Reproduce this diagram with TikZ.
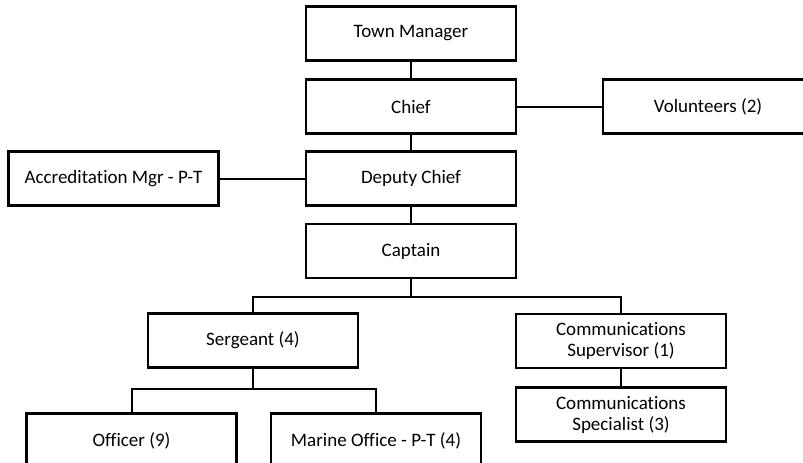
\documentclass[tikz,border=0pt]{standalone}
\usepackage{fontspec}
\setmainfont{Carlito}[Ligatures=NoCommon]
\usetikzlibrary{positioning}
\tikzstyle{post} = [draw, fill=white, line width=2.2pt, minimum width=210pt,
  minimum height=54pt, inner sep=0pt, align=center,
  font=\fontsize{19}{21}\selectfont]
\tikzstyle{line} = [draw, line width=2pt]
\tikzstyle{thinline} = [draw, line width=1.3pt]
\newcommand{\post}[2]{node (#1) [post] {#2}}

\begin{document}
\begin{tikzpicture}[x=1pt, y=-1pt]
\useasboundingbox (0,0) rectangle (803,463);
\clip (0,0) rectangle (803,463);
% Boxes of the chart
\path (411,33.5)                  \post{tm}{Town Manager};
\path (tm.center)+(0,73)          \post{chief}{Chief};
\path (chief.center)+(297,0)      \post{vol}{Volunteers (2)};
\path (chief.center)+(0,72)       \post{deputy}{Deputy Chief};
\path (deputy.center)+(-297.5,0)  \post{accr}{Accreditation Mgr - P-T};
\path (deputy.center)+(0,72.5)    \post{captain}{Captain};

\path (captain.center)+(-158,89.5) \post{sgt}{Sergeant (4)};
\path (captain.center)+(210,90)    \post{comsup}{Communications\\Supervisor (1)};
\path (comsup.center)+(0,73.5)     \post{comspec}{Communications\\Specialist (3)};

\path (sgt.center)+(-121.5,100)   \post{officer}{Officer (9)};
\path (sgt.center)+(123,100)      \post{marine}{Marine Office - P-T (4)};

% Lines between boxes
\path [line] (tm) -- (chief);
\path [line] (chief) -- (vol);
\path [line] (chief) -- (deputy);
\path [line] (accr) -- (deputy);
\path [line] (deputy) -- (captain);

\path [line] (captain.south) -- ++(0,18) -| (sgt.north);
\path [thinline] (captain.south) -- ++(0,18) -| (comsup.north);
\path [thinline] (comsup) -- (comspec);

\path [line] (sgt.south) -- ++(0,20.5) -| (officer.north);
\path [line] (sgt.south) -- ++(0,20.5) -| (marine.north);
\end{tikzpicture}
\end{document}
